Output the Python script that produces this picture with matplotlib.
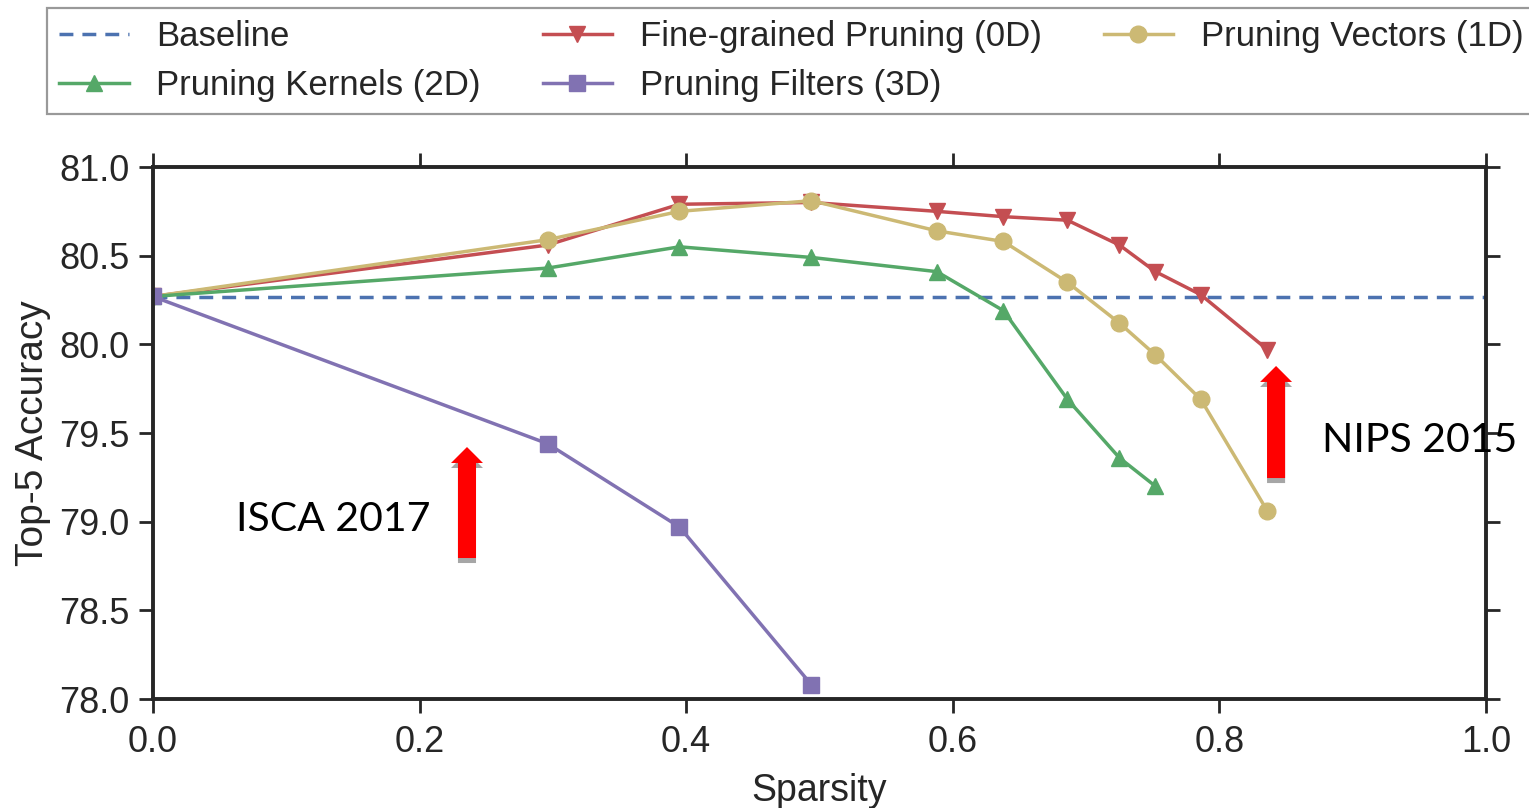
import numpy as np
import matplotlib
matplotlib.use("Agg")
import matplotlib.pyplot as plt
from matplotlib.patches import FancyArrowPatch

# data
sparsity_0d = [0.0, 0.296, 0.395, 0.494, 0.588, 0.638, 0.686, 0.725, 0.752, 0.786, 0.836]
acc_0d = [80.27, 80.56, 80.79, 80.80, 80.75, 80.72, 80.70, 80.56, 80.41, 80.28, 79.97]

sparsity_1d = [0.0, 0.296, 0.395, 0.494, 0.588, 0.638, 0.686, 0.725, 0.752, 0.786, 0.836]
acc_1d = [80.27, 80.59, 80.75, 80.81, 80.64, 80.58, 80.35, 80.12, 79.94, 79.69, 79.06]

sparsity_2d = [0.0, 0.296, 0.395, 0.494, 0.588, 0.638, 0.686, 0.725, 0.752]
acc_2d = [80.27, 80.43, 80.55, 80.49, 80.41, 80.19, 79.69, 79.36, 79.20]

sparsity_3d = [0.0, 0.296, 0.395, 0.494]
acc_3d = [80.27, 79.44, 78.97, 78.08]

baseline = 80.267

yticks = [78.0, 78.5, 79.0, 79.5, 80.0, 80.5, 81.0]
xticks = [0.0, 0.2, 0.4, 0.6, 0.8, 1.0]

blue, green, red, purple, yellow = "#4C72B0", "#55A868", "#C44E52", "#8172B2", "#CCB974"
dark = "#262626"

plt.rcParams['font.family'] = ['Liberation Sans', 'DejaVu Sans']

fig = plt.figure(figsize=(15.29, 8.08), dpi=100)
ax = fig.add_axes([0.1, 0.1349, 0.8719, 0.6584])

lw = 2.5
ax.axhline(baseline, color=blue, ls=(0, (4, 2.6)), lw=2.5, label="Baseline")
ax.plot(sparsity_0d, acc_0d, color=red, marker="v", ms=12, lw=lw, label="Fine-grained Pruning (0D)")
ax.plot(sparsity_1d, acc_1d, color=yellow, marker="o", ms=12, lw=lw, label="Pruning Vectors (1D)")
ax.plot(sparsity_2d, acc_2d, color=green, marker="^", ms=12, lw=lw, label="Pruning Kernels (2D)")
ax.plot(sparsity_3d, acc_3d, color=purple, marker="s", ms=12, lw=lw, label="Pruning Filters (3D)")

ax.set_xlim(0, 1.0)
ax.set_ylim(78.0, 81.0)
ax.set_xticks(xticks)
ax.set_yticks(yticks)
ax.set_xticklabels(["%.1f" % v for v in xticks])
ax.set_yticklabels(["%.1f" % v for v in yticks])
ax.tick_params(direction="out", length=10, width=2, colors=dark, labelsize=26,
               top=True, right=True, pad=7)
ax.tick_params(axis="x", pad=9)
for s in ax.spines.values():
    s.set_linewidth(2.8)
    s.set_color(dark)

ax.set_xlabel("Sparsity", fontsize=27, color=dark, labelpad=9)
ax.set_ylabel("Top-5 Accuracy", fontsize=28, color=dark, labelpad=6)

# red arrows with grey shadow
def arrow(x, y0, y1):
    dy = 5 / 177.3
    style = "simple,head_width=23,head_length=11.5,tail_width=13"
    for c, off, z in [("#A6A6A6", dy, 5), ("red", 0, 6)]:
        p = FancyArrowPatch((x, y0 - off), (x, y1 - off), arrowstyle=style,
                            mutation_scale=1, color=c, lw=0, shrinkA=0, shrinkB=0,
                            zorder=z, clip_on=False)
        ax.add_patch(p)

arrow(0.2356, 78.795, 79.421)
arrow(0.8425, 79.246, 79.878)

ax.text(0.0623, 79.01, "ISCA 2017", fontsize=29.5, family=["Lato", "DejaVu Sans"],
        va="center", ha="left", color="black", zorder=7)
ax.text(0.877, 79.455, "NIPS 2015", fontsize=29.5, family=["Lato", "DejaVu Sans"],
        va="center", ha="left", color="black", zorder=7, clip_on=False)

handles, labels = ax.get_legend_handles_labels()
# legend fills column by column: Baseline, 2D | 0D, 3D | 1D
h = [handles[0], handles[3], handles[1], handles[4], handles[2]]
l = [labels[0], labels[3], labels[1], labels[4], labels[2]]
leg = fig.legend(h, l, ncol=3, loc="upper left", bbox_to_anchor=(47 / 1529, 1 - 8 / 808),
                 fontsize=25, handlelength=2.0, handletextpad=0.8, columnspacing=1.78,
                 borderpad=0.35, labelspacing=0.45, fancybox=False, frameon=True,
                 borderaxespad=0)
leg.get_frame().set_edgecolor("#808080")
leg.get_frame().set_linewidth(1.6)
for t in leg.get_texts():
    t.set_color(dark)

fig.savefig("out.png", dpi=100)
